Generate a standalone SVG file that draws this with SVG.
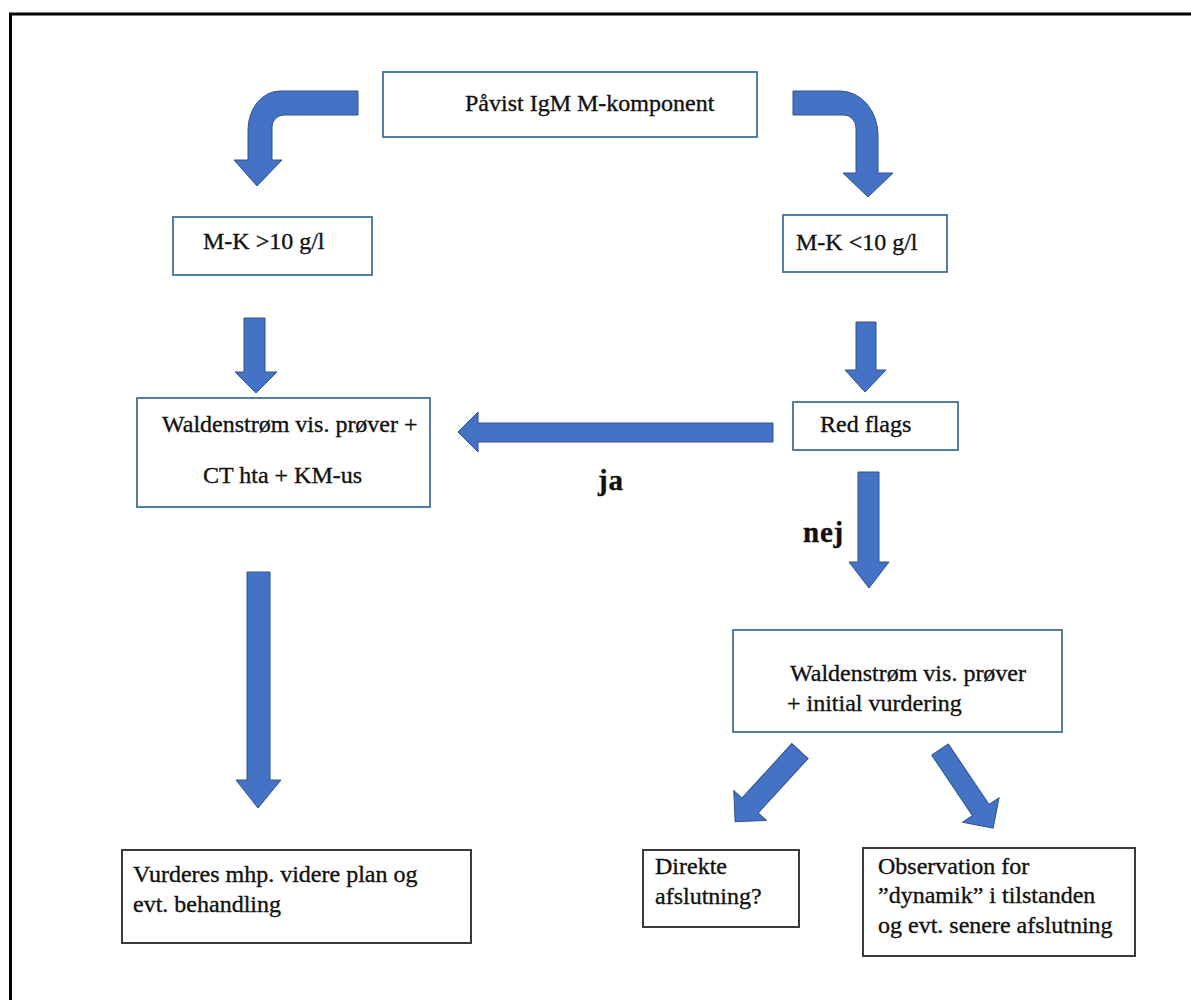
<svg xmlns="http://www.w3.org/2000/svg" width="1191" height="1000" viewBox="0 0 1191 1000">
<style>
.bx{fill:#fff;stroke:#41719C;stroke-width:1.8}
.bk{fill:#fff;stroke:#3a3a3a;stroke-width:2}
.ar{fill:#4472C4;stroke:#2F528F;stroke-width:1}
text{font-family:"Liberation Serif","Times New Roman",serif;font-size:24px;fill:#111;stroke:#111;stroke-width:0.35}
.b{font-weight:bold;font-size:29px;letter-spacing:0.8px}
</style>
<rect width="1191" height="1000" fill="#fff"/>
<path d="M10.5,1000 V14 H1191" fill="none" stroke="#000" stroke-width="3"/>
<g id="connectors">
<path class="ar" d="M358,91 L280,91 A32,39 0 0 0 248,130 L248,160 L234,160 L257,186 L282,160 L272,160 L272,127 A12,12 0 0 1 284,115 L358,115 Z"/>
<path class="ar" d="M793,91 L840,91 A38,44 0 0 1 878,135 L878,173 L893,173 L868,197 L843,173 L856,173 L856,128 A12,13 0 0 0 844,115 L793,115 Z"/>
<path class="ar" d="M244,318 L265,318 L265,372 L277,372 L256,393 L235,372 L244,372 Z"/>
<path class="ar" d="M856,322 L876,322 L876,370 L886,370 L865,392 L845,370 L856,370 Z"/>
<path class="ar" d="M773,423 L773,442 L478,442 L478,452 L458,432 L478,412 L478,423 Z"/>
<path class="ar" d="M858,472 L879,472 L879,562 L889,562 L869,588 L849,562 L858,562 Z"/>
<path class="ar" d="M247,572 L270,572 L270,780 L281,780 L258,808 L236,780 L247,780 Z"/>
<path class="ar" transform="translate(800,751) rotate(42.5)" d="M-11,0 L11,0 L11,74 L22,74 L0,96 L-22,74 L-11,74 Z"/>
<path class="ar" transform="translate(940,749.5) rotate(-34)" d="M-10,0 L10,0 L10,73 L22,73 L0,95 L-22,73 L-10,73 Z"/>
<text class="b" x="598" y="490">ja</text>
<text class="b" x="803" y="542">nej</text>
</g>
<g id="n-start"><rect class="bx" x="383" y="72" width="374" height="65"/><text x="465" y="111">Påvist IgM M-komponent</text></g>
<g id="n-mk-high"><rect class="bx" x="173" y="217" width="199" height="58"/><text x="203" y="249">M-K &gt;10 g/l</text></g>
<g id="n-mk-low"><rect class="bx" x="783" y="215" width="164" height="57"/><text x="796" y="250">M-K &lt;10 g/l</text></g>
<g id="n-redflags"><rect class="bx" x="793" y="402" width="165" height="48"/><text x="820" y="432">Red flags</text></g>
<g id="n-wald-left"><rect class="bx" x="137" y="398" width="293" height="109"/><text x="162" y="432">Waldenstrøm vis. prøver +</text><text x="203" y="483">CT hta + KM-us</text></g>
<g id="n-wald-right"><rect class="bx" x="733" y="630" width="329" height="102"/><text x="790" y="681">Waldenstrøm vis. prøver</text><text x="787" y="711">+ initial vurdering</text></g>
<g id="n-vurderes"><rect class="bk" x="122" y="850" width="349" height="93"/><text x="133" y="882">Vurderes mhp. videre plan og</text><text x="133" y="912">evt. behandling</text></g>
<g id="n-direkte"><rect class="bk" x="643" y="850" width="156" height="77"/><text x="655" y="874">Direkte</text><text x="655" y="904">afslutning?</text></g>
<g id="n-observation"><rect class="bk" x="863" y="848" width="272" height="108"/><text x="878" y="874">Observation for</text><text x="878" y="903">”dynamik” i tilstanden</text><text x="878" y="933">og evt. senere afslutning</text></g>
</svg>
